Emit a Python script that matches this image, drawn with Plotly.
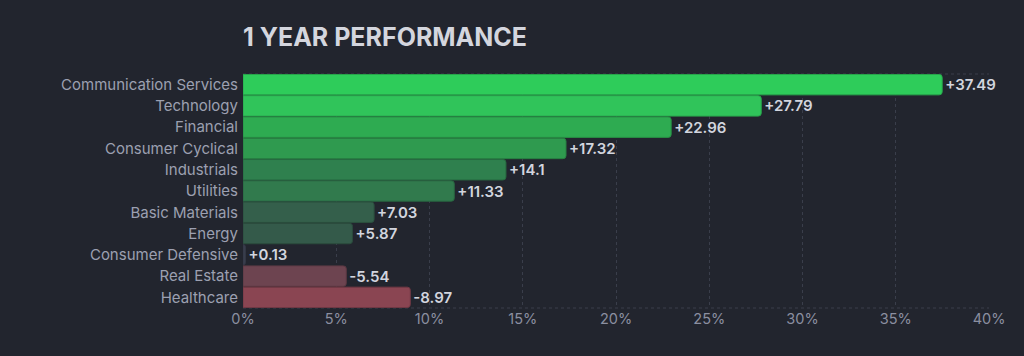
import plotly.graph_objects as go

sectors = ["Communication Services", "Technology", "Financial", "Consumer Cyclical",
           "Industrials", "Utilities", "Basic Materials", "Energy",
           "Consumer Defensive", "Real Estate", "Healthcare"]
performance = [37.49, 27.79, 22.96, 17.32, 14.1, 11.33, 7.03, 5.87, 0.13, -5.54, -8.97]
bar_colors = ["#2ecc5a", "#30c45a", "#2eab51", "#2f9a4f", "#2f804e", "#317a4d",
              "#345f4b", "#345a4a", "#3a3f4e", "#6d4450", "#8a4552"]
edge_colors = ["#27a84b", "#28a24b", "#278f44", "#287f42", "#276a41", "#286540",
               "#2b4f3e", "#2b4b3d", "#333745", "#5a3842", "#723945"]

labels = [("+" if v >= 0 else "") + f"{v:g}" for v in performance]
lengths = [abs(v) for v in performance]

bg = "#22252e"
fig = go.Figure(go.Bar(
    y=sectors, x=lengths, orientation="h",
    marker=dict(color=bar_colors, line=dict(color=edge_colors, width=1), cornerradius=3),
    text=labels, textposition="outside", cliponaxis=False,
    textfont=dict(family="Inter", size=15, color="#d2d5de", weight=600),
    hoverinfo="skip",
))

for yy in [0, 1]:
    fig.add_shape(type="line", xref="x", yref="paper", x0=0, x1=40, y0=yy, y1=yy,
                  line=dict(color="#3a3e4b", width=1, dash="3px,3px"), layer="below")

fig.update_layout(
    width=1024, height=356,
    paper_bgcolor=bg, plot_bgcolor=bg,
    margin=dict(l=243, r=35, t=74, b=48),
    bargap=0.04,
    showlegend=False,
    title=dict(text="1 YEAR PERFORMANCE", x=243/1024, xanchor="left", y=1-37/356, yanchor="middle",
               font=dict(family="Inter", size=25, color="#d4d6de", weight=700)),
    xaxis=dict(range=[0, 40], dtick=5, tick0=0, ticksuffix="%", showgrid=True,
               gridcolor="#3a3e4b", griddash="3px,3px", gridwidth=1, zeroline=False,
               tickfont=dict(family="Inter", size=14.5, color="#8b8fa0"), fixedrange=True),
    yaxis=dict(categoryorder="array", categoryarray=sectors, autorange="reversed",
               showgrid=False, zeroline=False, ticks="", ticklabelstandoff=4,
               tickfont=dict(family="Inter", size=15, color="#9ca0b1"), fixedrange=True),
    font=dict(family="Inter"),
)

fig.write_html("out.html", config={"displayModeBar": False},
               post_script="document.body.style.margin='0';document.body.style.background='#22252e';")
